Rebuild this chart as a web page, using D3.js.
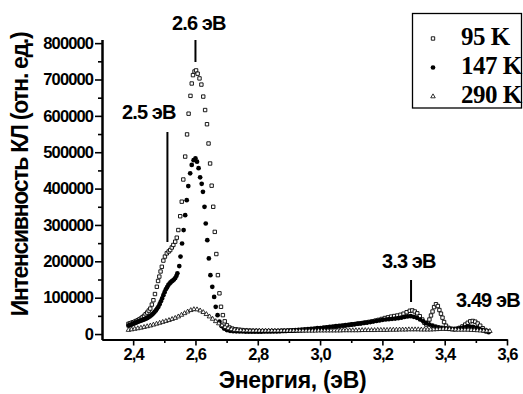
<!DOCTYPE html>
<html>
<head>
<meta charset="utf-8">
<script src="https://cdn.jsdelivr.net/npm/d3@7"></script>
<style>
  body { margin: 0; background: #fff; }
  svg { display: block; }
</style>
</head>
<body>
<svg id="chart" width="523" height="394"></svg>
<script>
// ---- data (energy eV, intensity a.u.) ----
const seriesNames = ["95 K", "147 K", "290 K"];

const k95 = [
  [2.385,28000],[2.390,29500],[2.395,31000],[2.400,32500],[2.405,34000],[2.410,36000],[2.415,38000],[2.420,40500],
  [2.425,43000],[2.430,46500],[2.435,50000],[2.440,54500],[2.445,59000],[2.450,64500],[2.455,70000],
  [2.460,81000],[2.465,93000],[2.470,110000],[2.476,130000],[2.480,146000],[2.484,158000],[2.488,172000],[2.492,185000],
  [2.497,202000],[2.502,213000],[2.508,222000],[2.514,227000],[2.519,231000],[2.524,238000],[2.529,245000],[2.535,254000],
  [2.540,265000],[2.545,286000],[2.551,324000],[2.556,364000],[2.561,425000],[2.567,488000],[2.573,549000],[2.578,606000],
  [2.584,655000],[2.588,689000],[2.592,712000],[2.597,722000],[2.602,725000],[2.607,716000],[2.613,703000],[2.619,686000],
  [2.625,653000],[2.631,616000],[2.637,577000],[2.642,524000],[2.647,469000],[2.652,408000],[2.657,350000],[2.662,281000],
  [2.667,220000],[2.672,162000],[2.677,112000],[2.682,75000],[2.688,52000],[2.694,35000],[2.701,24000],[2.709,18000],
  [2.718,15000],[2.728,13000],[2.738,12000],[2.748,11000],[2.758,10000],[2.768,9500],[2.778,9000],[2.788,8500],
  [2.798,8500],[2.808,8000],[2.818,8000],[2.828,8000],[2.838,8000],[2.848,8000],[2.858,8000],[2.868,8000],
  [2.878,8500],[2.888,8500],[2.898,9000],[2.908,9000],[2.918,9500],[2.928,10000],[2.938,10500],[2.948,11000],
  [2.958,11500],[2.968,12500],[2.978,13000],[2.988,14000],[2.998,15000],[3.008,16000],[3.018,17000],[3.028,18000],
  [3.038,19000],[3.048,20000],[3.058,21000],[3.068,22000],[3.078,23000],[3.088,24500],[3.098,25500],[3.108,26500],
  [3.118,28000],[3.128,29000],[3.138,30500],[3.148,32000],[3.158,33500],[3.168,35000],[3.178,37000],[3.188,39000],
  [3.198,41500],[3.208,44000],[3.218,46000],[3.228,48000],[3.238,49500],[3.248,51000],[3.258,53000],[3.268,56000],
  [3.278,60000],[3.288,64000],[3.296,65000],[3.304,62000],[3.312,57000],[3.320,49000],[3.328,40000],[3.335,31000],
  [3.341,26000],[3.346,31000],[3.351,40000],[3.356,51000],[3.361,62000],[3.366,74000],[3.372,82000],[3.378,77000],
  [3.383,66000],[3.388,56000],[3.393,45000],[3.398,33000],[3.404,23000],[3.412,17000],[3.421,14000],[3.430,13000],
  [3.439,14000],[3.448,17000],[3.457,21000],[3.466,26000],[3.474,31000],[3.482,35000],[3.490,36000],[3.498,34000],
  [3.506,29000],[3.514,23000],[3.522,16000],[3.530,11000],[3.538,8000]
];

const k147 = [
  [2.385,23000],[2.389,24200],[2.393,25500],[2.397,27000],[2.401,28500],[2.405,30000],[2.409,31500],[2.413,33000],
  [2.417,34500],[2.421,35800],[2.425,37000],[2.429,38200],[2.433,39500],[2.437,41000],[2.441,42500],[2.445,44000],
  [2.449,46000],[2.453,48500],[2.457,51000],[2.461,54000],[2.465,57000],[2.469,61000],[2.473,65000],[2.477,70000],
  [2.481,75000],[2.485,82000],[2.489,90000],[2.493,98000],[2.497,107000],[2.501,115000],[2.505,123000],[2.509,129000],
  [2.513,135000],[2.517,139000],[2.520,142000],[2.524,145000],[2.527,147000],[2.531,150000],[2.535,154000],[2.539,160000],
  [2.542,167000],[2.548,187000],[2.552,213000],[2.557,249000],
  [2.562,286000],[2.567,327000],[2.572,368000],[2.577,407000],[2.583,442000],[2.588,465000],[2.594,478000],[2.600,483000],
  [2.605,474000],[2.610,456000],[2.615,431000],[2.620,413000],[2.624,391000],[2.629,350000],[2.633,304000],[2.638,258000],
  [2.643,208000],[2.648,162000],[2.654,130000],[2.660,102000],[2.665,75000],[2.671,52000],[2.677,34000],[2.684,22000],
  [2.692,15000],[2.701,11000],[2.711,9000],[2.721,8000],[2.731,7500],[2.741,7000],[2.751,7000],[2.761,6500],
  [2.771,6500],[2.781,6500],[2.791,6500],[2.801,6500],[2.811,6500],[2.821,7000],[2.831,7000],[2.841,7000],
  [2.851,7500],[2.861,7500],[2.871,8000],[2.881,8500],[2.891,9000],[2.901,9500],[2.911,10000],[2.921,11000],
  [2.931,11500],[2.941,12000],[2.951,13000],[2.961,13500],[2.971,14000],[2.981,15000],[2.991,16000],[3.001,16500],
  [3.011,17500],[3.021,18500],[3.031,19500],[3.041,20500],[3.051,21500],[3.061,22500],[3.071,23500],[3.081,24500],
  [3.091,25500],[3.101,26500],[3.111,27500],[3.121,28500],[3.131,29500],[3.141,30500],[3.151,31500],[3.161,33000],
  [3.171,34500],[3.181,36000],[3.191,37500],[3.201,39000],[3.211,40000],[3.221,41000],[3.231,42000],[3.241,42500],
  [3.251,43500],[3.261,45000],[3.271,47000],[3.281,48500],[3.291,49000],[3.301,47500],[3.311,44500],[3.321,40000],
  [3.331,35000],[3.341,30000],[3.351,26000],[3.361,23000],[3.371,20500],[3.381,18500],[3.391,17000],[3.401,15500],
  [3.411,14500],[3.421,14000],[3.431,14000],[3.441,15000],[3.451,16500],[3.461,18500],[3.471,20000],[3.481,20500],
  [3.491,19500],[3.501,17000],[3.511,14000],[3.521,10500],[3.531,7500],[3.541,5000]
];

const k290 = [
  [2.385,11000],[2.395,12500],[2.405,14000],[2.415,15500],[2.425,17000],[2.435,19000],[2.445,21000],[2.455,23000],
  [2.465,25500],[2.475,28000],[2.485,30500],[2.495,33000],[2.505,35500],[2.515,38000],[2.525,41000],[2.535,44000],
  [2.545,48000],[2.555,52500],[2.565,57000],[2.575,61500],[2.585,65500],[2.595,68000],[2.605,67500],[2.615,64500],
  [2.625,60000],[2.635,54500],[2.645,48000],[2.655,41500],[2.665,35000],[2.675,29000],[2.685,23500],[2.695,19000],
  [2.705,15500],[2.715,13000],[2.725,11500],[2.735,10500],[2.745,10000],[2.755,9500],[2.765,9500],[2.775,9000],
  [2.785,9000],[2.795,9000],[2.805,9000],[2.815,9000],[2.825,9000],[2.835,9000],[2.845,9000],[2.855,9000],
  [2.865,9000],[2.875,9000],[2.885,9000],[2.895,9000],[2.905,9000],[2.915,9000],[2.925,9000],[2.935,9000],
  [2.945,9000],[2.955,9000],[2.965,9000],[2.975,9000],[2.985,9000],[2.995,9500],[3.005,9500],[3.015,9500],
  [3.025,9500],[3.035,9500],[3.045,9500],[3.055,9500],[3.065,9500],[3.075,10000],[3.085,10000],[3.095,10000],
  [3.105,10000],[3.115,10000],[3.125,10000],[3.135,10500],[3.145,10500],[3.155,10500],[3.165,10500],[3.175,10500],
  [3.185,11000],[3.195,11000],[3.205,11000],[3.215,11000],[3.225,11500],[3.235,11500],[3.245,11500],[3.255,12000],
  [3.265,12000],[3.275,12000],[3.285,12500],[3.295,12500],[3.305,12500],[3.315,12500],[3.325,12000],[3.335,12000],
  [3.345,12000],[3.355,12000],[3.365,12500],[3.375,13000],[3.385,13500],[3.395,14000],[3.405,14000],[3.415,13500],
  [3.425,12500],[3.435,12000],[3.445,11500],[3.455,11500],[3.465,11500],[3.475,11500],[3.485,11000],[3.495,10500],
  [3.505,10000],[3.515,9500],[3.525,9000],[3.535,8500],[3.545,8000]
];

const xTicks = [2.4, 2.6, 2.8, 3.0, 3.2, 3.4, 3.6];
const xTickLabels = ["2,4", "2,6", "2,8", "3,0", "3,2", "3,4", "3,6"];
const xMinorTicks = [2.5, 2.7, 2.9, 3.1, 3.3, 3.5];
const yTicks = [0, 100000, 200000, 300000, 400000, 500000, 600000, 700000, 800000];
const yMinorTicks = [50000, 150000, 250000, 350000, 450000, 550000, 650000, 750000];

const peakNotes = ["2.6 эВ", "2.5 эВ", "3.3 эВ", "3.49 эВ"];
const peakLineEnergies = [2.6, 2.51, 3.292, null];

// ---- drawing ----
const svg = d3.select("#chart");
const sansFont = "'Liberation Sans', Arial, sans-serif";
const serifFont = "'Liberation Serif', 'Times New Roman', serif";

const x = d3.scaleLinear().domain([2.3, 3.6]).range([102, 507]);
const y = d3.scaleLinear().domain([-15000, 810000]).range([339.5, 39.5]);

// markers
const squareSym = d3.symbol().type(d3.symbolSquare).size(11.6)();
const circleSym = d3.symbol().type(d3.symbolCircle).size(17.5)();
const triSym = d3.symbol().type(d3.symbolTriangle).size(9)();

const seriesStyles = [
  { data: k95, path: squareSym, fill: "#fff", stroke: "#000", sw: 0.9 },
  { data: k147, path: circleSym, fill: "#000", stroke: "none", sw: 0 },
  { data: k290, path: triSym, fill: "#fff", stroke: "#000", sw: 0.8 },
];

const plot = svg.append("g");
seriesStyles.forEach((s) => {
  plot.append("g")
    .selectAll("path")
    .data(s.data)
    .enter()
    .append("path")
    .attr("d", s.path)
    .attr("transform", (d) => `translate(${x(d[0])},${y(d[1])})`)
    .attr("fill", s.fill)
    .attr("stroke", s.stroke)
    .attr("stroke-width", s.sw);
});

// axes
function styleAxis(g) {
  g.select(".domain").attr("stroke", "#000").attr("stroke-width", 2);
  g.selectAll(".tick line").attr("stroke", "#000").attr("stroke-width", 1.6);
  g.selectAll("text")
    .attr("fill", "#000")
    .attr("font-family", sansFont)
    .attr("font-weight", "bold")
    .attr("font-size", 16.5)
    .attr("letter-spacing", -0.9);
}

svg.append("g")
  .attr("transform", "translate(0,339.5)")
  .call(d3.axisBottom(x).tickValues(xMinorTicks).tickSize(3.5).tickSizeOuter(0).tickFormat(""))
  .call(styleAxis);
svg.append("g")
  .attr("transform", "translate(0,339.5)")
  .call(d3.axisBottom(x).tickValues(xTicks).tickSize(6).tickSizeOuter(0).tickPadding(3)
    .tickFormat((d, i) => xTickLabels[i]))
  .call(styleAxis);

svg.append("g")
  .attr("transform", "translate(102,0)")
  .call(d3.axisLeft(y).tickValues(yMinorTicks).tickSize(4).tickSizeOuter(0).tickFormat(""))
  .call(styleAxis);
svg.append("g")
  .attr("transform", "translate(102,0)")
  .call(d3.axisLeft(y).tickValues(yTicks).tickSize(7).tickSizeOuter(0).tickPadding(2)
    .tickFormat(d3.format("d")))
  .call(styleAxis);

// axis titles
svg.append("text")
  .attr("x", 292.5)
  .attr("y", 387.5)
  .attr("text-anchor", "middle")
  .attr("font-family", sansFont)
  .attr("font-weight", "bold")
  .attr("font-size", 23)
  .attr("letter-spacing", -0.3)
  .text("Энергия, (эВ)");

svg.append("text")
  .attr("transform", "translate(28,174.5) rotate(-90)")
  .attr("text-anchor", "middle")
  .attr("font-family", sansFont)
  .attr("font-weight", "bold")
  .attr("font-size", 23)
  .attr("letter-spacing", -1.3)
  .text("Интенсивность КЛ (отн. ед.)");

// peak annotations
const notePos = [[172, 30], [122, 119], [382, 268], [456, 307]];
const lineSpans = [[40, 62], [132, 242], [280, 302], null];
peakNotes.forEach((t, i) => {
  svg.append("text")
    .attr("x", notePos[i][0])
    .attr("y", notePos[i][1])
    .attr("font-family", sansFont)
    .attr("font-weight", "bold")
    .attr("font-size", 20)
    .attr("letter-spacing", -0.9)
    .text(t);
  if (peakLineEnergies[i] != null) {
    svg.append("line")
      .attr("x1", x(peakLineEnergies[i]))
      .attr("x2", x(peakLineEnergies[i]))
      .attr("y1", lineSpans[i][0])
      .attr("y2", lineSpans[i][1])
      .attr("stroke", "#000")
      .attr("stroke-width", 2);
  }
});

// legend
const legend = svg.append("g");
legend.append("rect")
  .attr("x", 412.5).attr("y", 13.5)
  .attr("width", 109).attr("height", 94.5)
  .attr("fill", "#fff")
  .attr("stroke", "#000")
  .attr("stroke-width", 1.3);

seriesNames.forEach((name, i) => {
  const cy = 38.5 + i * 29;
  const s = seriesStyles[i];
  legend.append("path")
    .attr("d", s.path)
    .attr("transform", `translate(433,${cy})`)
    .attr("fill", s.fill)
    .attr("stroke", s.stroke)
    .attr("stroke-width", s.sw);
  legend.append("text")
    .attr("x", 461)
    .attr("y", 45 + i * 29)
    .attr("font-family", serifFont)
    .attr("font-weight", "bold")
    .attr("font-size", 25)
    .attr("letter-spacing", -0.5)
    .text(name);
});
</script>
</body>
</html>
